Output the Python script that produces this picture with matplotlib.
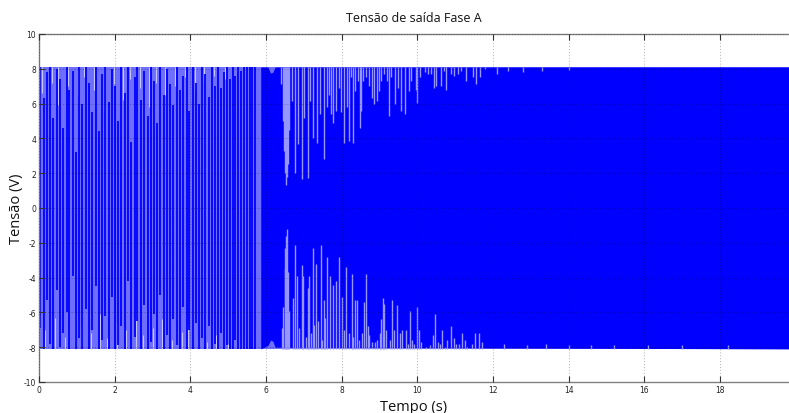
import matplotlib
matplotlib.use("Agg")
import matplotlib.pyplot as plt

plt.rcParams["axes.unicode_minus"] = False

# ---------------- data ----------------
title = "Tensão de saída Fase A"
xlabel = "Tempo (s)"
ylabel = "Tensão (V)"
x_ticks = [0, 2, 4, 6, 8, 10, 12, 14, 16, 18]
y_ticks = [-10, -8, -6, -4, -2, 0, 2, 4, 6, 8, 10]
t_end = 19.82
v_peak = 8.1            # swing of the output voltage (V)

# sparse part (0 - 5.8 s): dark strokes of the trace, with their extent (V)
stroke_t = [0.04, 0.13, 0.20, 0.30, 0.38, 0.47, 0.55, 0.64, 0.73, 0.80, 0.90, 0.98,
            1.07, 1.15, 1.24, 1.33, 1.40, 1.50, 1.58, 1.67, 1.75, 1.84, 1.93, 2.00,
            2.10, 2.18, 2.27, 2.35, 2.44, 2.53, 2.60, 2.70, 2.78, 2.87, 2.95, 3.04,
            3.12, 3.21, 3.30, 3.37, 3.47, 3.55, 3.64, 3.72, 3.81, 3.90, 3.97, 4.07,
            4.15, 4.24, 4.32, 4.40, 4.49, 4.57, 4.65, 4.73, 4.81, 4.89, 4.96, 5.04,
            5.12, 5.19, 5.27, 5.35, 5.42, 5.50, 5.58, 5.64, 5.70]
stroke_hi = [8.1, 6.3, 7.8, 8.1, 5.2, 8.0, 7.4, 4.6, 8.1, 6.8, 7.9, 3.2,
             8.1, 6.0, 8.1, 7.2, 5.5, 8.1, 4.4, 7.7, 8.1, 6.1, 8.0, 7.0,
             5.0, 8.1, 6.6, 8.1, 3.8, 7.5, 8.1, 6.2, 7.9, 5.3, 8.1, 7.3,
             4.9, 8.1, 6.5, 8.0, 7.1, 5.9, 8.1, 6.8, 7.6, 8.1, 5.6, 8.1,
             7.2, 6.0, 8.1, 7.7, 6.4, 8.1, 7.0, 8.1, 6.9, 7.8, 8.1, 7.4,
             8.1, 7.6, 8.1, 7.9, 8.1, 8.1, 8.1, 8.1, 8.1]
stroke_lo = [-6.9, -8.1, -5.3, -7.8, -8.1, -4.7, -8.0, -7.2, -6.0, -8.1, -3.9, -8.1,
             -7.5, -8.1, -5.8, -8.1, -7.0, -4.5, -8.1, -7.6, -6.2, -8.1, -5.1, -8.1,
             -7.9, -6.8, -8.1, -4.2, -8.1, -7.4, -6.5, -8.1, -5.6, -8.1, -7.7, -6.1,
             -8.1, -5.0, -8.1, -7.3, -8.1, -6.4, -7.9, -8.1, -5.7, -8.1, -7.0, -8.1,
             -6.6, -8.1, -7.5, -8.1, -6.8, -8.1, -7.8, -8.1, -7.2, -8.1, -7.9, -8.1,
             -8.1, -7.6, -8.1, -8.1, -8.1, -8.1, -8.1, -8.1, -8.1]

# sparse part: pale streaks (almost uncovered pixels) at top and bottom
pale_top_t = [0.09, 0.34, 0.51, 0.77, 1.03, 1.20, 1.45, 1.71, 1.97, 2.23, 2.40, 2.66,
              2.91, 3.08, 3.33, 3.60, 3.85, 4.11, 4.36, 4.62, 4.92, 5.23]
pale_top_v = [6.6, 7.2, 5.9, 7.0, 6.4, 7.5, 6.8, 5.6, 7.1, 6.2, 7.4, 6.9,
              5.8, 7.2, 6.5, 7.0, 7.5, 6.7, 7.3, 7.6, 7.4, 7.8]
pale_bot_t = [0.17, 0.42, 0.69, 0.94, 1.11, 1.37, 1.62, 1.80, 2.05, 2.31, 2.57, 2.74,
              3.00, 3.25, 3.51, 3.77, 3.93, 4.19, 4.45, 4.69, 5.00, 5.31]
pale_bot_v = [-7.0, -6.3, -7.4, -5.9, -6.8, -7.2, -6.1, -7.5, -6.6, -7.0, -5.8, -7.3,
              -6.9, -6.4, -7.6, -7.1, -6.7, -7.4, -7.7, -7.3, -7.8, -7.7]

# dense part: fully covered core of the trace
t_core = [5.86, 6.05, 6.12, 6.18, 6.24, 19.82]
core_top = [8.1, 8.1, 7.75, 7.8, 8.1, 8.1]
core_bot = [-8.1, -7.9, -7.6, -7.65, -8.0, -8.1]

# light gaps reaching into the core from the top: time (s) and tip (V)
gap_top_t = [6.40, 6.44, 6.48, 6.51, 6.53, 6.55, 6.57, 6.60, 6.68, 6.775, 6.84, 6.95,
             7.01, 7.10, 7.15, 7.23, 7.34, 7.43, 7.53, 7.60, 7.66, 7.72, 7.78, 7.85,
             7.92, 7.99, 8.07, 8.13, 8.19, 8.25, 8.31, 8.36, 8.425, 8.49, 8.52, 8.57,
             8.645, 8.73, 8.80, 8.865, 8.93, 8.98, 9.04, 9.13, 9.19, 9.26, 9.31, 9.42,
             9.48, 9.56, 9.67, 9.77, 9.835, 9.95, 10.00, 10.07, 10.19, 10.28, 10.36, 10.43,
             10.50, 10.63, 10.69, 10.76, 10.89, 10.98, 11.07, 11.16, 11.29, 11.47, 11.555, 11.66,
             11.78, 12.1, 12.4, 12.8, 13.3, 14.0]
gap_top_v = [7.1, 5.0, 3.3, 2.0, 1.3, 1.8, 2.5, 4.5, 6.15, 2.0, 3.7, 1.65,
             5.2, 1.75, 6.15, 4.0, 3.75, 5.4, 2.8, 5.8, 6.5, 5.4, 4.9, 5.6,
             6.9, 5.5, 3.75, 5.8, 3.85, 7.5, 3.75, 6.7, 7.3, 4.6, 5.6, 7.3,
             7.5, 7.0, 6.3, 6.0, 6.15, 6.7, 7.3, 7.7, 7.3, 5.3, 7.5, 6.0,
             6.9, 5.6, 5.4, 6.7, 7.3, 6.8, 6.05, 7.5, 7.8, 7.7, 7.7, 6.9,
             7.0, 7.0, 7.9, 6.8, 7.7, 7.6, 7.7, 7.9, 7.3, 7.5, 7.1, 7.5,
             8.0, 7.7, 7.9, 7.8, 7.9, 7.95]

# light gaps reaching into the core from the bottom: time (s) and tip (V)
gap_bot_t = [6.42, 6.46, 6.49, 6.51, 6.53, 6.55, 6.58, 6.62, 6.72, 6.775, 6.81, 6.88,
             6.94, 6.99, 7.06, 7.10, 7.13, 7.19, 7.23, 7.28, 7.33, 7.375, 7.44, 7.48,
             7.53, 7.57, 7.62, 7.69, 7.78, 7.85, 7.92, 8.01, 8.06, 8.125, 8.20, 8.26,
             8.30, 8.36, 8.41, 8.47, 8.54, 8.58, 8.63, 8.69, 8.73, 8.80, 8.87, 8.93,
             9.00, 9.05, 9.09, 9.12, 9.17, 9.28, 9.33, 9.38, 9.47, 9.53, 9.60, 9.69,
             9.75, 9.81, 9.86, 9.92, 9.985, 10.03, 10.09, 10.23, 10.34, 10.41, 10.47, 10.54,
             10.60, 10.655, 10.72, 10.79, 10.88, 10.955, 11.03, 11.11, 11.185, 11.25, 11.32, 11.45,
             11.51, 11.63, 11.71, 12.3, 12.9, 13.4, 14.0, 14.6, 15.2, 16.1, 17.0, 18.2]
gap_bot_v = [-6.9, -5.7, -3.5, -2.3, -1.6, -1.2, -3.7, -5.9, -5.2, -2.1, -3.9, -6.9,
             -3.3, -3.9, -7.4, -4.6, -3.9, -7.2, -2.3, -6.7, -3.2, -6.5, -2.1, -7.6,
             -5.3, -6.3, -2.8, -3.9, -4.4, -4.2, -2.8, -5.1, -7.0, -3.4, -7.2, -3.8,
             -7.4, -5.3, -5.3, -7.6, -7.2, -5.4, -3.8, -6.8, -7.3, -7.7, -7.7, -7.6,
             -7.2, -6.4, -5.2, -5.5, -7.0, -7.6, -5.3, -7.0, -5.6, -7.2, -7.0, -7.0,
             -7.8, -5.9, -7.6, -7.8, -5.7, -7.0, -7.7, -8.0, -7.9, -7.3, -6.1, -7.7,
             -7.8, -7.0, -8.0, -7.6, -6.8, -7.5, -7.8, -7.8, -7.2, -7.6, -8.0, -7.8,
             -7.2, -7.2, -7.7, -7.8, -7.9, -7.8, -7.9, -7.9, -7.9, -7.9, -7.9, -7.9]

# ---------------- drawing ----------------
DARK = "#0000ff"
LIGHT = "#9696ff"
MID = "#6e6eff"
PALE = "#c6c6ff"

fig = plt.figure(figsize=(7.89, 4.14), dpi=100)
ax = fig.add_axes([0.0494, 0.0749, 0.9506, 0.8406])

# envelope of the swinging trace (partially covered pixels)
ax.fill_between([0, t_end], [-v_peak, -v_peak], [v_peak, v_peak],
                color=MID, linewidth=0, zorder=1)
# pale streaks in the sparse part
ax.vlines(pale_top_t, pale_top_v, [v_peak] * len(pale_top_t), colors=PALE,
          linewidth=0.8, zorder=1.2)
ax.vlines(pale_bot_t, [-v_peak] * len(pale_bot_t), pale_bot_v, colors=PALE,
          linewidth=0.8, zorder=1.2)
# strokes in the sparse part
ax.vlines(stroke_t, stroke_lo, stroke_hi, colors=DARK, linewidth=1.3, zorder=1.5)
# solid core
ax.fill_between(t_core, core_bot, core_top, color=DARK, linewidth=0, zorder=1.6)
# light gaps
ax.vlines(gap_top_t, gap_top_v, [v_peak] * len(gap_top_t), colors=LIGHT,
          linewidth=1.0, zorder=1.7)
ax.vlines(gap_bot_t, [-v_peak] * len(gap_bot_t), gap_bot_v, colors=LIGHT,
          linewidth=1.0, zorder=1.7)

ax.set_xlim(0, t_end)
ax.set_ylim(-10, 10)
ax.set_xticks(x_ticks)
ax.set_yticks(y_ticks)
ax.tick_params(direction="in", length=4, width=0.8, color="#333333",
               labelsize=5.5, labelcolor="#222222", top=True, pad=2)
ax.grid(True, linestyle=(0, (1, 2)), color="black", alpha=0.3, linewidth=0.7,
        zorder=2.5)
ax.set_axisbelow(False)
for side in ["left", "bottom", "top"]:
    ax.spines[side].set_color("#808080")
    ax.spines[side].set_linewidth(1.0)
ax.spines["right"].set_visible(False)

ax.set_title(title, fontsize=9, family="Open Sans", pad=9, color="#111111")
ax.set_xlabel(xlabel, fontsize=10.5, family="Open Sans", labelpad=4, color="#111111")
ax.set_ylabel(ylabel, fontsize=10.5, family="Open Sans", labelpad=0, color="#111111")

fig.savefig("out.png", dpi=100)
